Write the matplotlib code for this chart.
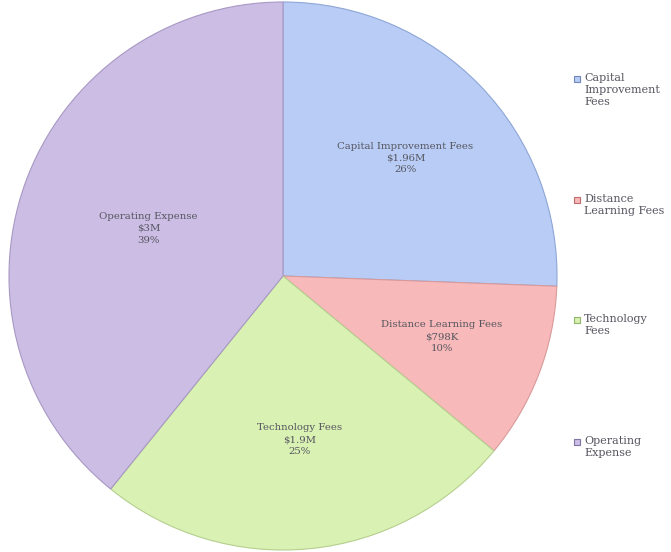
import numpy as np
import matplotlib.pyplot as plt
from matplotlib.patches import Rectangle

categories = ['Capital Improvement Fees', 'Distance Learning Fees', 'Technology Fees', 'Operating Expense']
values = [1.96, 0.798, 1.9, 3.0]  # millions
value_labels = ['$1.96M', '$798K', '$1.9M', '$3M']
legend_labels = ['Capital\nImprovement\nFees', 'Distance\nLearning Fees', 'Technology\nFees', 'Operating\nExpense']

colors = ['#b8ccf5', '#f7b9b9', '#d9f1b3', '#cbbde4']
edges = ['#8ea6d6', '#d99a9a', '#b5cf8e', '#a898c4']
marker_edges = ['#6f86b8', '#c06a6a', '#8fb86a', '#7f74a6']
label_r = [0.62, 0.62, 0.6, 0.52]
txt_color = '#55555f'

fig = plt.figure(figsize=(6.71, 5.52), dpi=100)
ax = fig.add_axes([9/671, 2/552, 548/671, 548/552])

wedges, _ = ax.pie(values, colors=colors, startangle=90, counterclock=False, radius=1,
                   wedgeprops=dict(linewidth=0.8))
for w, ec in zip(wedges, edges):
    w.set_edgecolor(ec)

total = sum(values)
for w, cat, vl, v, r in zip(wedges, categories, value_labels, values, label_r):
    mid = np.deg2rad((w.theta1 + w.theta2) / 2)
    pct = round(100 * v / total)
    ax.text(r * np.cos(mid), r * np.sin(mid), f'{cat}\n{vl}\n{pct}%',
            ha='center', va='center', fontsize=7.3, family='DejaVu Serif',
            color=txt_color, linespacing=1.4)

ax.set_xlim(-1, 1)
ax.set_ylim(-1, 1)
ax.set_aspect('equal')
ax.axis('off')

# legend on the right
leg_y = [79, 200, 320, 442]
for lab, c, ec, y in zip(legend_labels, colors, marker_edges, leg_y):
    fig.patches.append(Rectangle((574 / 671, 1 - (y + 3) / 552), 6 / 671, 6 / 552,
                                 transform=fig.transFigure, facecolor=c, edgecolor=ec, linewidth=0.8))
    fig.text(584 / 671, 1 - (y - 6) / 552, lab, ha='left', va='top', fontsize=8,
             family='DejaVu Serif', color=txt_color, linespacing=1.25)

plt.savefig('out.png', dpi=100)
